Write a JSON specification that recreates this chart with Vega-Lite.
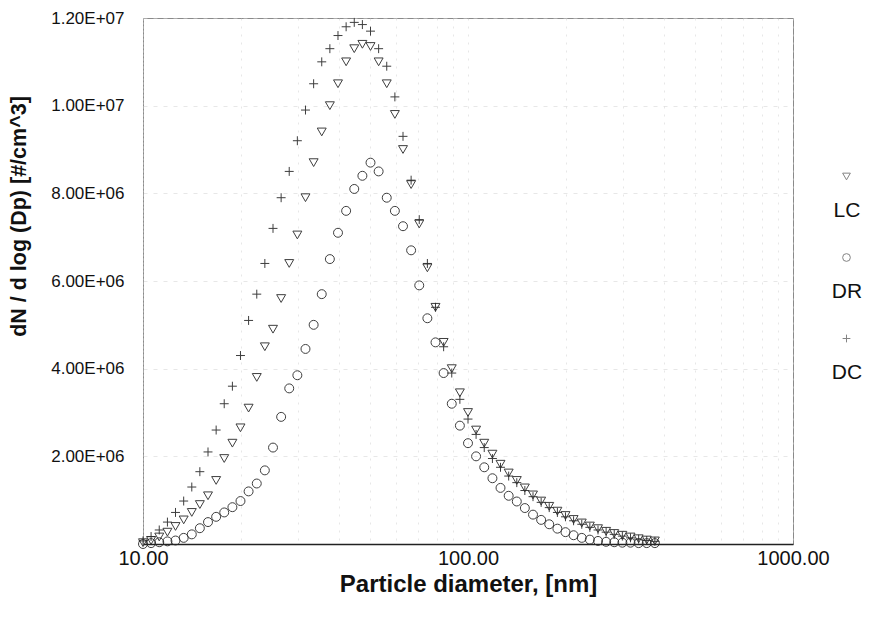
{
  "$schema": "https://vega.github.io/schema/vega-lite/v6.json",
  "width": 650,
  "height": 526,
  "autosize": {"type": "none"},
  "padding": {"left": 143, "top": 18, "right": 77, "bottom": 73},
  "background": "white",
  "config": {
    "view": {"stroke": "#8a8a8a", "strokeWidth": 1},
    "font": "Liberation Sans"
  },
  "data": {
    "values": [
      {"d": 10.0, "LC": 30000, "DR": 0, "DC": 70000},
      {"d": 10.59, "LC": 80000, "DR": 20000, "DC": 170000},
      {"d": 11.22, "LC": 160000, "DR": 40000, "DC": 320000},
      {"d": 11.89, "LC": 270000, "DR": 60000, "DC": 500000},
      {"d": 12.59, "LC": 400000, "DR": 80000, "DC": 720000},
      {"d": 13.34, "LC": 550000, "DR": 140000, "DC": 980000},
      {"d": 14.13, "LC": 720000, "DR": 220000, "DC": 1300000},
      {"d": 14.96, "LC": 900000, "DR": 360000, "DC": 1650000},
      {"d": 15.85, "LC": 1100000, "DR": 500000, "DC": 2100000},
      {"d": 16.79, "LC": 1450000, "DR": 620000, "DC": 2600000},
      {"d": 17.78, "LC": 1950000, "DR": 720000, "DC": 3200000},
      {"d": 18.84, "LC": 2300000, "DR": 840000, "DC": 3600000},
      {"d": 19.95, "LC": 2650000, "DR": 980000, "DC": 4300000},
      {"d": 21.13, "LC": 3100000, "DR": 1200000, "DC": 5100000},
      {"d": 22.39, "LC": 3800000, "DR": 1380000, "DC": 5700000},
      {"d": 23.71, "LC": 4500000, "DR": 1680000, "DC": 6400000},
      {"d": 25.12, "LC": 4900000, "DR": 2200000, "DC": 7200000},
      {"d": 26.61, "LC": 5600000, "DR": 2900000, "DC": 7900000},
      {"d": 28.18, "LC": 6400000, "DR": 3550000, "DC": 8500000},
      {"d": 29.85, "LC": 7050000, "DR": 3850000, "DC": 9200000},
      {"d": 31.62, "LC": 7900000, "DR": 4450000, "DC": 9900000},
      {"d": 33.5, "LC": 8700000, "DR": 5000000, "DC": 10500000},
      {"d": 35.48, "LC": 9400000, "DR": 5700000, "DC": 11000000},
      {"d": 37.58, "LC": 10000000, "DR": 6500000, "DC": 11300000},
      {"d": 39.81, "LC": 10500000, "DR": 7100000, "DC": 11600000},
      {"d": 42.17, "LC": 11000000, "DR": 7600000, "DC": 11800000},
      {"d": 44.67, "LC": 11300000, "DR": 8100000, "DC": 11900000},
      {"d": 47.32, "LC": 11400000, "DR": 8400000, "DC": 11850000},
      {"d": 50.12, "LC": 11350000, "DR": 8700000, "DC": 11700000},
      {"d": 53.09, "LC": 11000000, "DR": 8500000, "DC": 11300000},
      {"d": 56.23, "LC": 10500000, "DR": 7900000, "DC": 10900000},
      {"d": 59.57, "LC": 9800000, "DR": 7600000, "DC": 10200000},
      {"d": 63.1, "LC": 9000000, "DR": 7250000, "DC": 9300000},
      {"d": 66.83, "LC": 8200000, "DR": 6700000, "DC": 8300000},
      {"d": 70.79, "LC": 7300000, "DR": 5900000, "DC": 7400000},
      {"d": 74.99, "LC": 6300000, "DR": 5150000, "DC": 6400000},
      {"d": 79.43, "LC": 5400000, "DR": 4600000, "DC": 5400000},
      {"d": 84.14, "LC": 4600000, "DR": 3900000, "DC": 4500000},
      {"d": 89.13, "LC": 4000000, "DR": 3200000, "DC": 3900000},
      {"d": 94.41, "LC": 3450000, "DR": 2700000, "DC": 3300000},
      {"d": 100.0, "LC": 3000000, "DR": 2300000, "DC": 2850000},
      {"d": 105.9, "LC": 2600000, "DR": 2000000, "DC": 2500000},
      {"d": 112.2, "LC": 2300000, "DR": 1750000, "DC": 2200000},
      {"d": 118.9, "LC": 2050000, "DR": 1500000, "DC": 1950000},
      {"d": 125.9, "LC": 1820000, "DR": 1280000, "DC": 1750000},
      {"d": 133.4, "LC": 1620000, "DR": 1100000, "DC": 1550000},
      {"d": 141.3, "LC": 1450000, "DR": 970000, "DC": 1400000},
      {"d": 149.6, "LC": 1280000, "DR": 820000, "DC": 1220000},
      {"d": 158.5, "LC": 1120000, "DR": 670000, "DC": 1080000},
      {"d": 167.9, "LC": 980000, "DR": 550000, "DC": 950000},
      {"d": 177.8, "LC": 860000, "DR": 450000, "DC": 830000},
      {"d": 188.4, "LC": 750000, "DR": 350000, "DC": 720000},
      {"d": 199.5, "LC": 650000, "DR": 270000, "DC": 620000},
      {"d": 211.3, "LC": 560000, "DR": 200000, "DC": 530000},
      {"d": 223.9, "LC": 480000, "DR": 140000, "DC": 450000},
      {"d": 237.1, "LC": 410000, "DR": 100000, "DC": 380000},
      {"d": 251.2, "LC": 350000, "DR": 70000, "DC": 320000},
      {"d": 266.1, "LC": 290000, "DR": 50000, "DC": 270000},
      {"d": 281.8, "LC": 240000, "DR": 40000, "DC": 220000},
      {"d": 298.5, "LC": 200000, "DR": 30000, "DC": 180000},
      {"d": 316.2, "LC": 160000, "DR": 30000, "DC": 140000},
      {"d": 335.0, "LC": 120000, "DR": 20000, "DC": 110000},
      {"d": 354.8, "LC": 90000, "DR": 20000, "DC": 80000},
      {"d": 375.8, "LC": 70000, "DR": 20000, "DC": 60000}
    ]
  },
  "transform": [
    {"fold": ["LC", "DR", "DC"], "as": ["series", "value"]}
  ],
  "mark": {"type": "point", "filled": false, "stroke": "#2a2a2a", "strokeWidth": 1, "size": 80, "opacity": 0.9},
  "encoding": {
    "x": {
      "field": "d",
      "type": "quantitative",
      "scale": {"type": "log", "domain": [10, 1000]},
      "axis": {
        "title": "Particle diameter, [nm]",
        "titleFontSize": 24,
        "titleFontWeight": "bold",
        "titleColor": "#111",
        "titlePadding": 4,
        "values": [10, 20, 30, 40, 50, 60, 70, 80, 90, 100, 200, 300, 400, 500, 600, 700, 800, 900, 1000],
        "labelExpr": "(datum.value == 10 || datum.value == 100 || datum.value == 1000) ? format(datum.value, '.2f') : ''",
        "labelFontSize": 20,
        "labelColor": "#111",
        "labelPadding": 4,
        "labelOverlap": false,
        "labelFlush": false,
        "ticks": false,
        "domainColor": "#222",
        "domainWidth": 1.5,
        "grid": true,
        "gridColor": "#cfcfcf",
        "gridDash": [2, 6],
        "gridOpacity": 0.5
      }
    },
    "y": {
      "field": "value",
      "type": "quantitative",
      "scale": {"domain": [0, 12000000]},
      "axis": {
        "title": "dN / d log (Dp) [#/cm^3]",
        "titleFontSize": 21.5,
        "titleFontWeight": "bold",
        "titleColor": "#111",
        "titleAngle": -90,
        "titleX": -124,
        "titleY": 198,
        "titleBaseline": "middle",
        "titleAlign": "center",
        "values": [0, 2000000, 4000000, 6000000, 8000000, 10000000, 12000000],
        "labelExpr": "datum.value == 0 ? '' : (datum.value >= 10000000 ? format(datum.value / 10000000, '.2f') + 'E+07' : format(datum.value / 1000000, '.2f') + 'E+06')",
        "labelFontSize": 17,
        "labelColor": "#111",
        "labelPadding": 19,
        "ticks": false,
        "domainColor": "#aaa",
        "domainDash": [2, 2],
        "grid": true,
        "gridColor": "#cfcfcf",
        "gridDash": [4, 6],
        "gridOpacity": 0.5
      }
    },
    "shape": {
      "field": "series",
      "type": "nominal",
      "scale": {"domain": ["LC", "DR", "DC"], "range": ["triangle-down", "circle", "M-1,0H1M0,-1V1"]},
      "legend": {
        "title": null,
        "orient": "none",
        "legendX": 693,
        "legendY": 148,
        "padding": 0,
        "rowPadding": 26,
        "symbolSize": 60,
        "symbolStrokeColor": "#777",
        "symbolStrokeWidth": 1,
        "symbolFillColor": "transparent",
        "labelFontSize": 21,
        "labelColor": "#111",
        "labelAlign": "center",
        "labelBaseline": "top",
        "labelOffset": -10,
        "labelExpr": "['', datum.label]"
      }
    }
  }
}
